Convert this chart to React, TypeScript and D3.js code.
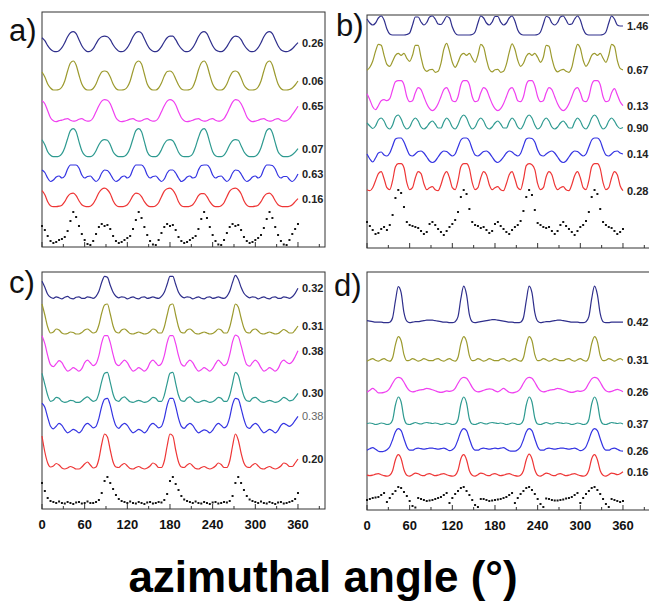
import React from "react";
import * as d3 from "d3";

// sampled every 4 degrees, 0..360
const angles = d3.range(0, 361, 4);

// ---------- panel a ----------
const aNavy = [
  14, 11, 6, 2.5, 0.5, 0, 1, 4, 9, 15, 19, 20, 18, 12, 6, 2, 0, 0.5, 3, 8, 12.5, 15, 15.5,
  15, 12, 7, 3, 0.5, 0, 1, 4, 9, 15, 19, 20, 18.5, 13, 7, 2.5, 0.5, 0, 1.5, 5, 10, 14, 15.5,
  15.5, 12, 7, 3, 0.5, 0, 1, 4, 9, 15, 19, 20, 18, 12, 6, 2, 0.5, 0, 1.5, 5, 10, 14, 15.5,
  15, 12, 7, 3, 0.5, 0, 1, 4, 9, 15, 19, 20, 18, 12, 6, 2, 0.5, 0, 1, 3, 6, 9,
];
const aOlive = [
  18, 13, 6, 2, 0, 0, 0.5, 3, 9, 19, 27, 29, 25, 15, 6, 1.5, 0, 0, 1.5, 6, 13, 18, 19,
  18, 13, 6, 1.5, 0, 0, 0.5, 3, 9, 19, 27, 29, 26, 16, 6, 1.5, 0, 0, 2, 7, 14, 18.5, 19,
  17, 11, 5, 1, 0, 0, 0.5, 3, 10, 20, 27, 29, 25, 15, 6, 1.5, 0, 0, 1.5, 6, 13, 18, 19,
  17.5, 12, 5, 1.5, 0, 0, 0.5, 3, 9, 19, 27, 29, 25, 15, 6, 1.5, 0, 0, 0.5, 2, 5, 9,
];
const aMagenta = [
  21, 18, 11, 4, 1, 0, 1, 1.5, 2.5, 3, 1.5, 0.5, 1, 2.5, 3, 1.5, 0.5, 1, 4, 10, 16, 20.5, 22,
  21.5, 18, 11, 4, 1, 0, 0.5, 1.5, 2.5, 3, 1.5, 0.5, 1, 2.5, 3, 1.5, 0.5, 1, 4, 10, 16, 20.5, 22,
  21, 17, 10, 4, 1, 0, 0.5, 1.5, 2.5, 3, 1.5, 0.5, 1, 2.5, 3, 1.5, 0.5, 1, 3, 8, 14, 19.5, 22,
  21.5, 18, 12, 5, 1.5, 0, 0.5, 1.5, 2.5, 3, 1.5, 0.5, 1, 2.5, 3, 1.5, 0.5, 1, 3, 7, 11, 15.5,
];
const aTeal = [
  17, 12, 5, 1.5, 0, 0, 0.5, 3, 9, 18, 26, 28, 25, 15, 6, 1.5, 0, 0, 1.5, 6, 12, 16, 17,
  16.5, 12, 5, 1.5, 0, 0, 0.5, 3, 9, 18, 26, 28, 25, 15, 5, 1, 0, 0, 2, 7, 13, 16.5, 17,
  16, 11, 4.5, 1, 0, 0, 0.5, 3, 10, 19, 26, 28, 24, 14, 5, 1, 0, 0, 1.5, 6, 12, 16, 17,
  16.5, 11, 5, 1.5, 0, 0, 0.5, 3, 9, 18, 26, 28, 24, 14, 5, 1.5, 0, 0, 0.5, 2, 4.5, 8,
];
const aBlue = [
  12, 9.5, 4, 0.5, 2, 5, 6, 4, 6, 13, 17, 17, 17, 14, 7, 4, 5.5, 6, 3, 0.5, 3, 9, 12,
  11.5, 8, 3, 0.5, 2, 5, 6, 4, 6, 13, 17, 17, 17, 14, 7, 4, 5.5, 6, 3, 0.5, 3, 9, 12,
  12, 9, 4, 0.5, 2, 5, 6, 4, 5, 12, 16.5, 17, 17, 14, 7, 4, 5.5, 6, 3, 0.5, 3, 9, 12,
  11.5, 8, 3, 0.5, 2, 5, 6, 4, 6, 13, 17, 17, 16.5, 13, 6.5, 4, 5.5, 5.5, 2.5, 0.5, 3, 8,
];
const aRed = [
  16, 12, 5, 1, 0, 0, 0.5, 1.5, 5, 10, 13, 13.5, 11, 6, 2, 0.5, 0, 0.5, 3, 8, 14, 17.5, 18.5,
  17, 13, 6, 1.5, 0, 0, 0.5, 2, 6, 11, 13.5, 13, 10, 5, 1.5, 0, 0, 1, 4, 10, 15.5, 18, 18.5,
  16.5, 12, 5, 1, 0, 0, 0.5, 2, 6, 11, 13, 13, 10, 5, 1.5, 0, 0, 1, 4, 10, 15.5, 18, 18.5,
  17, 13, 6, 1.5, 0, 0, 0.5, 1.5, 5, 10, 13, 13.5, 11, 6, 2, 0.5, 0, 0, 0.5, 2, 5, 8,
];
const aDots = [
  20, 16, 10, 5, 3, 4, 6, 7, 9, 15, 25, 34, 29, 20, 12, 6, 2, 1, 5, 12, 19, 22, 20,
  21, 17, 10, 5, 3, 4, 6, 8, 10, 17, 26, 34, 28, 19, 11, 5, 1.5, 1, 6, 13, 19, 22, 20,
  21, 16, 9, 5, 3, 4, 6, 8, 10, 17, 27, 34, 28, 19, 11, 5, 1.5, 1, 6, 13, 19, 22, 20,
  21, 16, 9, 5, 3, 4, 6, 8, 11, 18, 27, 34, 28, 19, 11, 5, 1.5, 1, 6, 12, 17, 22,
];
const aValues = ["0.26", "0.06", "0.65", "0.07", "0.63", "0.16"];
const aStack = [195.3, 157, 125.3, 90.3, 65, 40.3, 1];

// ---------- panel b ----------
const bNavy = [
  16, 12, 10, 12, 17, 19, 15, 6, 1, 0, 0, 0, 0, 0, 0.5, 2, 10, 18, 18, 13, 10, 12.5, 18,
  19, 16, 11, 10.5, 14, 18.5, 17, 8, 2, 0, 0, 0, 0, 0, 0.5, 3, 12, 19, 17, 12, 10, 13, 18.5,
  18.5, 13, 10, 12, 17, 19, 14, 5, 1, 0, 0, 0, 0, 0, 0.5, 3, 11, 18.5, 17.5, 12, 10, 12.5, 18,
  19, 15, 10.5, 11, 16, 19, 15, 6, 1, 0, 0, 0, 0, 0, 0.5, 3, 12, 19, 16, 10, 9, 9,
];
const bOlive = [
  3, 6, 12, 22, 29, 28, 18, 9, 7, 12, 18, 20, 18, 20, 15, 12, 18, 28, 28, 16, 5, 2, 3.5,
  4, 1, 2, 10, 24, 30, 22, 11, 6, 11, 18, 20, 18, 20, 15, 11, 18, 29, 26, 14, 4, 1.5, 3.5,
  4, 1, 2, 9, 21, 29.5, 24, 13, 7, 10, 17, 20, 18, 20, 16, 11, 16, 28, 27, 15, 5, 1.5, 3,
  4, 2, 1, 6, 19, 29, 25, 13, 7, 11, 18, 20, 18, 20, 15, 11, 18, 29, 27, 13, 5, 3.5,
];
const bMagenta = [
  18, 12, 5, 2, 6, 11, 12, 11, 13, 22, 30, 31, 31, 27, 15, 10, 11, 19, 24, 22, 15, 8, 3,
  1, 3, 8, 15, 22, 24, 19, 11, 10, 15, 27, 31, 31, 27, 15, 10, 11, 19, 24, 22, 15, 8, 3,
  1, 3, 8, 15, 22, 24, 19, 11, 10, 15, 27, 31, 31, 26, 15, 10, 11, 19, 24, 22, 15, 8, 3,
  1, 3, 8, 15, 22, 24, 19, 11, 10, 15, 27, 31, 31, 27, 15, 10, 11, 19, 23, 17, 10, 6,
];
const bTeal = [
  7, 4, 1.5, 4, 10, 12, 9, 3, 1, 5, 13, 15, 11, 4, 1, 3, 9, 12, 9, 3, 1, 3, 7,
  9, 6, 2, 2, 8, 12, 9, 3, 1, 5, 12, 15, 12, 5, 1, 3, 9, 12, 9, 3, 1, 3, 7,
  9, 6, 2, 2, 8, 12, 9, 3, 1, 5, 12, 15, 12, 5, 1, 3, 9, 12, 9, 3, 1, 3, 7,
  9, 6, 2, 2, 8, 12, 9, 3, 1, 5, 12, 15, 12, 5, 1, 3, 9, 12, 9, 4, 1.5, 2.5,
];
const bBlue = [
  9, 4, 1, 5, 10, 11, 8, 7, 10, 17, 24, 25, 25, 21, 14, 8, 7, 9, 11.5, 12, 10, 6, 2,
  0.5, 2, 6, 10, 12, 11.5, 9, 7, 9, 16, 23, 25, 25, 22, 14, 8, 7, 9, 11.5, 12, 10, 6, 2,
  0.5, 2.5, 6, 10, 12, 11, 8.5, 7, 9.5, 17, 24, 25, 24.5, 21, 13, 8, 7, 9, 11, 12, 10, 6, 2,
  0.5, 2, 6, 10, 12, 11.5, 9, 7, 9, 16, 23, 25, 25, 22, 14, 8, 7, 9, 11.5, 12, 10, 9,
];
const bRed = [
  3, 2, 5, 12, 19, 21, 14, 5, 3, 12, 26, 29, 29, 25, 10, 3, 5, 15, 21, 19, 9, 3, 5,
  6, 3, 2, 8, 17, 21, 15, 5, 3, 12, 26, 29, 29, 24, 10, 3, 5, 15, 21, 18, 8, 3, 5,
  6, 3, 2, 9, 18, 21, 14, 5, 3, 13, 27, 29, 28, 23, 9, 3, 5, 16, 21, 18, 8, 3, 5,
  6, 3, 2, 8, 17, 21, 15, 5, 3, 12, 26, 29, 29, 24, 10, 3, 5, 15, 21, 18, 7, 2,
];
const bDots = [
  15, 11, 7, 3, 4, 8, 10, 7, 12, 22, 39, 47, 44, 30, 15, 12, 11, 10, 9, 6, 3, 5, 13,
  15, 12, 8, 5, 2, 6, 10, 13, 17, 25, 40, 47, 43, 28, 15, 12, 11, 9, 10, 7, 4, 6, 13,
  15, 11, 8, 5, 3, 7, 10, 12, 16, 26, 40, 47, 42, 27, 14, 12, 10, 9, 10, 6, 3, 6, 12,
  15, 11, 8, 5, 2, 6, 10, 12, 16, 25, 40, 47, 43, 28, 15, 12, 10, 9, 6, 3, 5, 8,
];
const bValues = ["1.46", "0.67", "0.13", "0.90", "0.14", "0.28"];
const bStack = [213, 174.7, 136.3, 118, 85, 55.3, 11];

// ---------- panel c ----------
const cNavy = [
  18, 12, 5, 2, 1, 2.5, 1.5, 0.5, 2, 3, 1, 0.5, 2, 2.5, 1, 1, 2.5, 2, 1, 3, 8, 17, 23,
  22, 14, 7, 3, 1.5, 2.5, 2, 0.5, 1.5, 2.5, 1, 0.5, 2, 2.5, 1, 1.5, 2.5, 1.5, 1, 3, 7, 15, 23,
  23, 15, 7, 3, 1.5, 2.5, 2, 0.5, 1.5, 2.5, 1, 0.5, 2, 2.5, 1, 1.5, 2.5, 1.5, 1, 3, 8, 17, 24,
  20, 12, 6, 3, 1.5, 2.5, 2, 0.5, 1.5, 2.5, 1, 0.5, 2, 2.5, 1, 1, 2.5, 2, 1, 2.5, 6, 11,
];
const cOlive = [
  31, 20, 8, 2, 3, 6, 5, 2, 1, 1.5, 3, 2.5, 1, 1, 2.5, 5, 6, 4, 2, 3, 10, 22, 30,
  31, 21, 9, 3, 2, 5, 6, 4, 1.5, 1, 2, 3, 2, 1, 1.5, 3.5, 6, 5, 2, 2, 8, 20, 30,
  31, 20, 8, 2.5, 2, 5, 6, 4, 1.5, 1, 2, 3, 2, 1, 1.5, 3.5, 6, 5, 2, 2, 8, 20, 31,
  28, 17, 7, 2.5, 2, 5, 6, 4, 1.5, 1, 2, 3, 2, 1, 1.5, 3.5, 5.5, 4, 2, 2, 5, 9,
];
const cMagenta = [
  36, 28, 16, 7, 5, 8, 11, 9, 4, 0.5, 2, 4, 2.5, 0.5, 3, 9, 11.5, 9, 6, 8, 16, 29, 36,
  36, 29, 17, 8, 6, 9, 11.5, 9, 4, 0.5, 2, 4, 2.5, 0.5, 3, 9, 11.5, 9, 6, 8, 16, 29, 36,
  36, 28, 16, 7.5, 5.5, 9, 11.5, 9, 4, 0.5, 2, 4, 2.5, 0.5, 3, 8, 11.5, 9, 6, 8, 17, 30, 36.5,
  35, 26, 15, 7, 5.5, 9, 11.5, 9, 4, 0.5, 2, 4, 2.5, 0.5, 3, 9, 11.5, 9.5, 8, 10, 15, 21,
];
const cTeal = [
  30, 19, 8, 2, 3, 6, 5, 2, 1, 1.5, 3, 2.5, 1, 1, 2.5, 5, 6.5, 4, 2, 3, 10, 22, 30,
  31, 21, 9, 3, 2, 5, 6.5, 4, 1.5, 1, 2, 3, 2, 1, 1.5, 3.5, 6, 5, 2, 2, 8, 20, 30,
  31, 20, 8, 2.5, 2, 5, 6.5, 4, 1.5, 1, 2, 3, 2, 1, 1.5, 3.5, 6, 5, 2, 2, 8, 20, 31,
  28, 17, 7, 2.5, 2, 5, 6, 4, 1.5, 1, 2, 3, 2, 1, 1.5, 3.5, 6, 4.5, 2.5, 3, 6, 10,
];
const cBlue = [
  30, 26, 16, 7, 4.5, 7, 10, 8, 3.5, 0.5, 2, 4, 2.5, 0.5, 3, 8, 10, 8, 5.5, 7, 15, 27, 34,
  35, 28, 16, 7.5, 5, 8, 10, 8, 3.5, 0.5, 2, 4, 2.5, 0.5, 3, 8, 10, 8, 5.5, 7, 15, 28, 35,
  35, 27, 15, 7, 5, 8, 10, 8, 3.5, 0.5, 2, 3.5, 2.5, 0.5, 3, 7.5, 10, 8, 5.5, 7.5, 16, 29, 35,
  34, 25, 14, 6.5, 5, 8, 10, 8, 3.5, 0.5, 2, 4, 2.5, 0.5, 3, 8, 10, 8.5, 7, 9, 13, 17,
];
const cRed = [
  34, 18, 7, 3, 4, 6.5, 5, 2, 1, 2, 3.5, 2.5, 1, 1, 3, 6, 8, 5, 2, 3, 11, 26, 36,
  33, 20, 8, 3, 2.5, 5, 6.5, 4, 1.5, 1, 2.5, 3.5, 2, 1, 2, 4, 7, 5.5, 2.5, 2.5, 9, 24, 36,
  34, 20, 8, 3, 2.5, 5, 6.5, 4, 1.5, 1, 2.5, 3.5, 2, 1, 2, 4, 7, 5.5, 2.5, 2.5, 9, 24, 36,
  30, 17, 7, 3, 2.5, 5, 6.5, 4, 1.5, 1, 2.5, 3.5, 2, 1, 2, 4, 7, 6, 3.5, 3.5, 7, 11,
];
const cDots = [
  22, 14, 7, 4, 3, 2, 3.5, 2, 1.5, 3, 2, 1, 2.5, 3, 1.5, 2, 3.5, 2, 2, 3, 5, 12, 24,
  28, 22, 16, 10, 6, 4, 3, 2, 3.5, 2, 1.5, 3, 2, 1, 2.5, 3, 1.5, 2, 3, 2.5, 5, 11, 24,
  28, 21, 15, 9, 5.5, 4, 3, 2, 3.5, 2, 1.5, 3, 2, 1, 2.5, 3, 1.5, 2, 3, 2.5, 4, 9, 22,
  28, 22, 15, 9, 5.5, 4, 3, 2, 3.5, 2, 1.5, 3, 2, 1, 2.5, 3, 1.5, 2, 3, 4, 6, 12,
];
const cValues = ["0.32", "0.31", "0.38", "0.30", "0.38", "0.20"];
const cStack = [209.7, 174, 137.3, 105.7, 75.7, 39, 4];

// ---------- panel d ----------
const dNavy = [
  2, 1.5, 1, 0.5, 0.5, 0.5, 0, 0, 0.5, 5, 22, 36, 30, 10, 1.5, 0, 0.5, 1, 1, 1.5, 2, 2.5, 2.5,
  2.5, 2, 1.5, 1, 0.5, 0.5, 0, 0, 1, 6, 24, 36.5, 28, 8, 1, 0, 0.5, 1, 1.5, 2, 2.5, 3, 3,
  2.5, 2, 1.5, 1, 0.5, 0.5, 0, 0, 0.5, 5, 22, 36.5, 30, 10, 1.5, 0, 0.5, 1, 1, 1.5, 2, 2.5, 2.5,
  2, 1.5, 1, 0.5, 0.5, 0.5, 0, 0, 1, 6, 24, 36.5, 28, 9, 1, 0, 0, 0.5, 0.5, 0.5, 0.5, 0.5,
];
const dOlive = [
  0.5, 2, 3, 1.5, 0.5, 2, 3, 1.5, 0.5, 4, 17, 25, 21, 7, 1, 1.5, 3, 2, 0.5, 1.5, 3, 2, 1,
  1, 2.5, 3, 1.5, 0.5, 2, 3, 1.5, 0.5, 4.5, 18, 25, 20, 6, 1, 1.5, 3, 2, 0.5, 1.5, 3, 2, 1,
  1, 2.5, 3, 1.5, 0.5, 2, 3, 1.5, 0.5, 4, 17, 25, 21, 7, 1, 1.5, 3, 2, 0.5, 1.5, 3, 2, 1,
  1, 2.5, 3, 1.5, 0.5, 2, 3, 1.5, 0.5, 4.5, 18, 25, 20, 6, 1, 1.5, 3, 2, 0.5, 2, 3, 1.5,
];
const dMagenta = [
  1, 3, 5, 3, 0.5, 0.5, 1, 2, 5, 10, 14.5, 16, 15, 11, 6, 2.5, 1.5, 2, 3, 3.5, 4, 5, 4.5,
  3.5, 2.5, 1.5, 1, 1.5, 2.5, 2, 2.5, 5, 10, 14.5, 16, 15, 11, 6, 2.5, 1.5, 2, 3, 4, 4.5, 4, 2.5,
  1.5, 3, 5, 3, 1, 0.5, 1, 2, 5, 10, 14.5, 16, 15, 11, 6, 2.5, 1.5, 2, 3, 3.5, 4, 5, 4.5,
  3.5, 2.5, 1.5, 1, 1.5, 2.5, 2, 2.5, 5, 10, 14.5, 16, 15, 11, 6, 2.5, 1.5, 2, 3, 4, 3, 1.5,
];
const dTeal = [
  1.5, 2, 1.5, 0.5, 1, 2, 1.5, 0.5, 1, 5, 20, 28, 23, 7, 1, 0.5, 1.5, 2.5, 1.5, 1, 2, 2.5, 2,
  1.5, 2, 1.5, 0.5, 1, 2, 1.5, 0.5, 1, 5.5, 21, 28, 22, 6, 1, 0.5, 1.5, 2.5, 1.5, 1, 2, 2.5, 2,
  1.5, 2, 1.5, 0.5, 1, 2, 1.5, 0.5, 1, 5, 20, 28, 23, 7, 1, 0.5, 1.5, 2.5, 1.5, 1, 2, 2.5, 2,
  1.5, 2, 1.5, 0.5, 1, 2, 1.5, 0.5, 1, 5.5, 21, 28, 22, 6, 1, 0.5, 1.5, 2.5, 2, 1.5, 2, 1,
];
const dBlue = [
  1.5, 3, 4, 2.5, 0.5, 0, 0.5, 2, 5, 12, 20, 23, 21, 13, 5, 1.5, 1.5, 3, 3.5, 3, 2.5, 3, 3.5,
  3.5, 3, 2.5, 3, 3.5, 2.5, 1, 2, 5, 12, 20, 23, 21, 13, 5, 1.5, 1.5, 3, 3.5, 3, 2.5, 3, 3.5,
  3, 3.5, 4, 2.5, 1, 0.5, 0.5, 2, 5, 12, 20, 23, 21, 13, 5, 1.5, 1.5, 3, 3.5, 3, 2.5, 3, 3.5,
  3.5, 3, 2.5, 3, 3.5, 2.5, 1, 2, 5, 12, 20, 23, 21, 13, 5, 1.5, 1.5, 3, 3.5, 2.5, 1, 0.5,
];
const dRed = [
  1.5, 1, 1.5, 2.5, 3, 2, 1, 0.5, 1.5, 6, 17, 22, 18, 7, 1.5, 0.5, 2, 3.5, 3, 1.5, 1, 2.5, 3,
  2, 1, 1.5, 2.5, 3, 2, 1, 0.5, 1.5, 6.5, 18, 22, 17, 6, 1.5, 0.5, 2, 3.5, 3, 1.5, 1, 2.5, 3,
  2, 1, 1.5, 2.5, 3, 2, 1, 0.5, 1.5, 6, 17, 22.5, 18, 7, 1.5, 0.5, 2, 3.5, 3, 1.5, 1, 2.5, 3,
  2, 1, 1.5, 2.5, 3, 2, 1, 0.5, 1.5, 6.5, 18, 22, 17, 6, 1.5, 0.5, 2, 3.5, 3, 2, 3, 5,
];
const dDots = [
  8, 9, 10, 10.5, 11, 13, 15, 6, 10, 14, 17, 21, 20, 16, 12, 7, 2, 0.5, 10, 9, 8, 7, 7.5,
  8, 9, 10, 11, 13, 15, 5, 10, 14, 17, 20, 21, 17, 13, 8, 3, 1, 9, 9, 8, 7, 7.5, 8,
  8.5, 9, 10, 11, 13, 15, 5, 10, 14, 17, 20, 21, 18, 14, 9, 4, 1, 9.5, 9, 8, 7.5, 7.5, 8,
  8.5, 9.5, 10, 11, 13, 15, 5, 10, 14, 17, 20, 21, 18, 14, 9, 4, 1, 9, 8, 7, 6, 7,
];
const dValues = ["0.42", "0.31", "0.26", "0.37", "0.26", "0.16"];
const dStack = [187.3, 148.3, 116.7, 85, 58.3, 33.3, 2];

const lineColors = ["#2f2f8c", "#9c9a2e", "#f040f0", "#2e9a90", "#3434e2", "#ee3636"];
const xTicks = d3.range(0, 391, 30);
const font = "'Liberation Sans', Arial, Helvetica, sans-serif";

const panels = [
  { tag: "a)", tagX: 9, tagY: 41, x0: 42, x1: 325, y0: 12, y1: 247,
    series: [aNavy, aOlive, aMagenta, aTeal, aBlue, aRed], dots: aDots,
    stack: aStack, values: aValues, tickLabels: false },
  { tag: "b)", tagX: 336, tagY: 36, x0: 367, x1: 650, y0: 15, y1: 248,
    series: [bNavy, bOlive, bMagenta, bTeal, bBlue, bRed], dots: bDots,
    stack: bStack, values: bValues, tickLabels: false },
  { tag: "c)", tagX: 9, tagY: 293, x0: 42, x1: 325, y0: 272, y1: 509,
    series: [cNavy, cOlive, cMagenta, cTeal, cBlue, cRed], dots: cDots,
    stack: cStack, values: cValues, tickLabels: true },
  { tag: "d)", tagX: 334, tagY: 296, x0: 367, x1: 650, y0: 272, y1: 510,
    series: [dNavy, dOlive, dMagenta, dTeal, dBlue, dRed], dots: dDots,
    stack: dStack, values: dValues, tickLabels: true },
];

const Panel = ({ p, k }: { p: any; k: number }) => {
  const x = d3.scaleLinear().domain([0, 398]).range([p.x0, p.x1]);
  const y = d3.scaleLinear().domain([0, p.y1 - p.y0]).range([p.y1, p.y0]);

  return (
    <g>
      <rect x={p.x0} y={p.y0} width={p.x1 - p.x0} height={p.y1 - p.y0}
        fill="none" stroke="#333" strokeWidth={1} />
      {xTicks.map((t) => (
        <line key={t} x1={x(t)} x2={x(t)} y1={p.y1} y2={p.y1 - (t % 60 === 0 ? 5 : 3)}
          stroke="#333" strokeWidth={1} />
      ))}
      {p.tickLabels &&
        xTicks.filter((t) => t % 60 === 0 && t <= 360).map((t) => (
          <text key={"l" + t} x={x(t)} y={p.y1 + 20} textAnchor="middle"
            fontFamily={font} fontWeight="bold" fontSize={13} fill="#111">{t}</text>
        ))}
      {p.series.map((s: number[], i: number) => {
        const line = d3.line<number>()
          .x((_, j) => x(angles[j]))
          .y((v) => y(p.stack[i] + v))
          .curve(d3.curveMonotoneX);
        return (
          <path key={"s" + i} d={line(s) || ""} fill="none"
            stroke={lineColors[i]} strokeWidth={1.2} />
        );
      })}
      {p.dots.map((v: number, j: number) => (
        <rect key={"d" + j} x={x(angles[j]) - 1} y={y(p.stack[6] + v) - 1}
          width={2} height={2} fill="#151515" />
      ))}
      {p.values.map((txt: string, i: number) => {
        const s = p.series[i];
        const grey = k === 2 && i === 4;
        return (
          <text key={"v" + i} x={x(360) + 4} y={y(p.stack[i] + s[s.length - 1])}
            dominantBaseline="central" fontFamily={font} fontSize={11}
            fontWeight={grey ? "normal" : "bold"} fill={grey ? "#666" : "#222"}>
            {txt}
          </text>
        );
      })}
      <text x={p.tagX} y={p.tagY} fontFamily={font} fontSize={31} fill="#111">{p.tag}</text>
    </g>
  );
};

export default function App() {
  return (
    <svg width={649} height={604} style={{ position: "absolute", left: 0, top: 0, background: "#fff" }}>
      {panels.map((p, k) => <Panel key={k} p={p} k={k} />)}
      <text x={323} y={592} textAnchor="middle" fontFamily={font} fontWeight="bold"
        fontSize={44} fill="#000">azimuthal angle (°)</text>
    </svg>
  );
}
